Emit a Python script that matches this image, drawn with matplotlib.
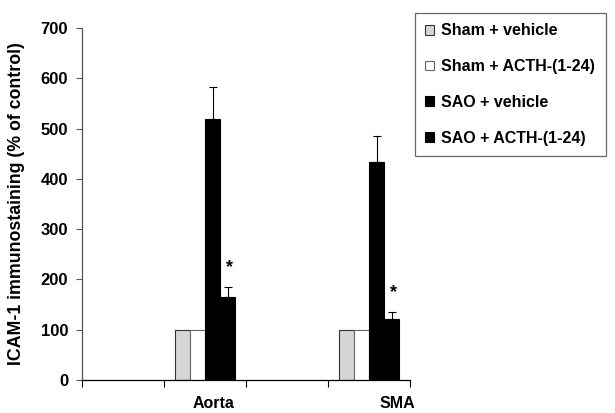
import matplotlib
matplotlib.use("Agg")
import matplotlib.pyplot as plt
import numpy as np

plt.rcParams['font.family'] = ['Liberation Sans', 'DejaVu Sans']
plt.rcParams['font.weight'] = 'bold'

# Data
groups = ["Aorta", "SMA"]
series_names = ["Sham + vehicle", "Sham + ACTH-(1-24)", "SAO + vehicle", "SAO + ACTH-(1-24)"]
sham_vehicle = [100, 100]
sham_acth = [100, 100]
sao_vehicle = [520, 433]
sao_acth = [165, 121]
sham_vehicle_err = [0, 0]
sham_acth_err = [0, 0]
sao_vehicle_err = [62, 52]
sao_acth_err = [19, 14]
significant = [False, False, False, True]
yticks = [0, 100, 200, 300, 400, 500, 600, 700]

values = [sham_vehicle, sham_acth, sao_vehicle, sao_acth]
errors = [sham_vehicle_err, sham_acth_err, sao_vehicle_err, sao_acth_err]
colors = ["#d6d6d6", "#ffffff", "#000000", "#000000"]
edges = ["#333333", "#666666", "#000000", "#000000"]

fig = plt.figure(figsize=(6.15, 4.13), dpi=100)
ax = fig.add_axes([82/615, 1-380/413, (410-82)/615, (380-28)/413])

n_slots = 4
slots = [1, 3]
w = 15/82
for j, (vals, errs) in enumerate(zip(values, errors)):
    xs = np.array(slots) + (j - 1.5) * w
    ax.bar(xs, vals, width=w, color=colors[j], edgecolor=edges[j], linewidth=0.8,
           label=series_names[j], zorder=2)
    if any(e > 0 for e in errs):
        ax.errorbar(xs, vals, yerr=[np.zeros(len(errs)), errs], fmt='none',
                    ecolor='black', elinewidth=0.8, capsize=3, capthick=0.8, zorder=3)
    if significant[j]:
        for x, v, e in zip(xs, vals, errs):
            ax.text(x + 0.02, v + e + 22, "*", ha='center', va='bottom',
                    fontsize=13, fontweight='bold')

ax.set_xlim(-0.5, n_slots - 0.5)
ax.set_ylim(0, 700)
ax.set_yticks(yticks)
ax.set_yticklabels([str(t) for t in yticks], fontsize=12, fontweight='bold')
ax.set_xticks(np.arange(n_slots + 1) - 0.5)
ax.set_xticklabels([])
ax.tick_params(axis='x', direction='out', length=5, width=0.8, color='black')
ax.tick_params(axis='y', direction='out', length=4, width=0.8, color='#555555', pad=6)

for g, s, off in zip(groups, slots, [0.10, 0.35]):
    ax.text(s + off, -0.045, g, transform=ax.get_xaxis_transform(),
            ha='center', va='top', fontsize=11.5, fontweight='bold')

ax.spines['top'].set_visible(False)
ax.spines['right'].set_visible(False)
ax.spines['left'].set_color('#555555')
ax.spines['left'].set_linewidth(0.9)
ax.spines['bottom'].set_color('black')
ax.spines['bottom'].set_linewidth(0.9)

ax.set_ylabel("ICAM-1 immunostaining (% of control)", fontsize=12.8, fontweight='bold')
ax.yaxis.set_label_coords(-0.175, 0.5)

leg = fig.legend(loc='upper left', bbox_to_anchor=(415/615, 1-13/413),
                 frameon=True, fancybox=False, prop={'size': 11.5, 'weight': 'bold'},
                 handlelength=0.55, handleheight=0.55, handletextpad=0.45,
                 labelspacing=1.3, borderpad=0.65, borderaxespad=0)
leg.get_frame().set_edgecolor('#444444')
leg.get_frame().set_linewidth(0.9)

fig.savefig("out.png", dpi=100)
